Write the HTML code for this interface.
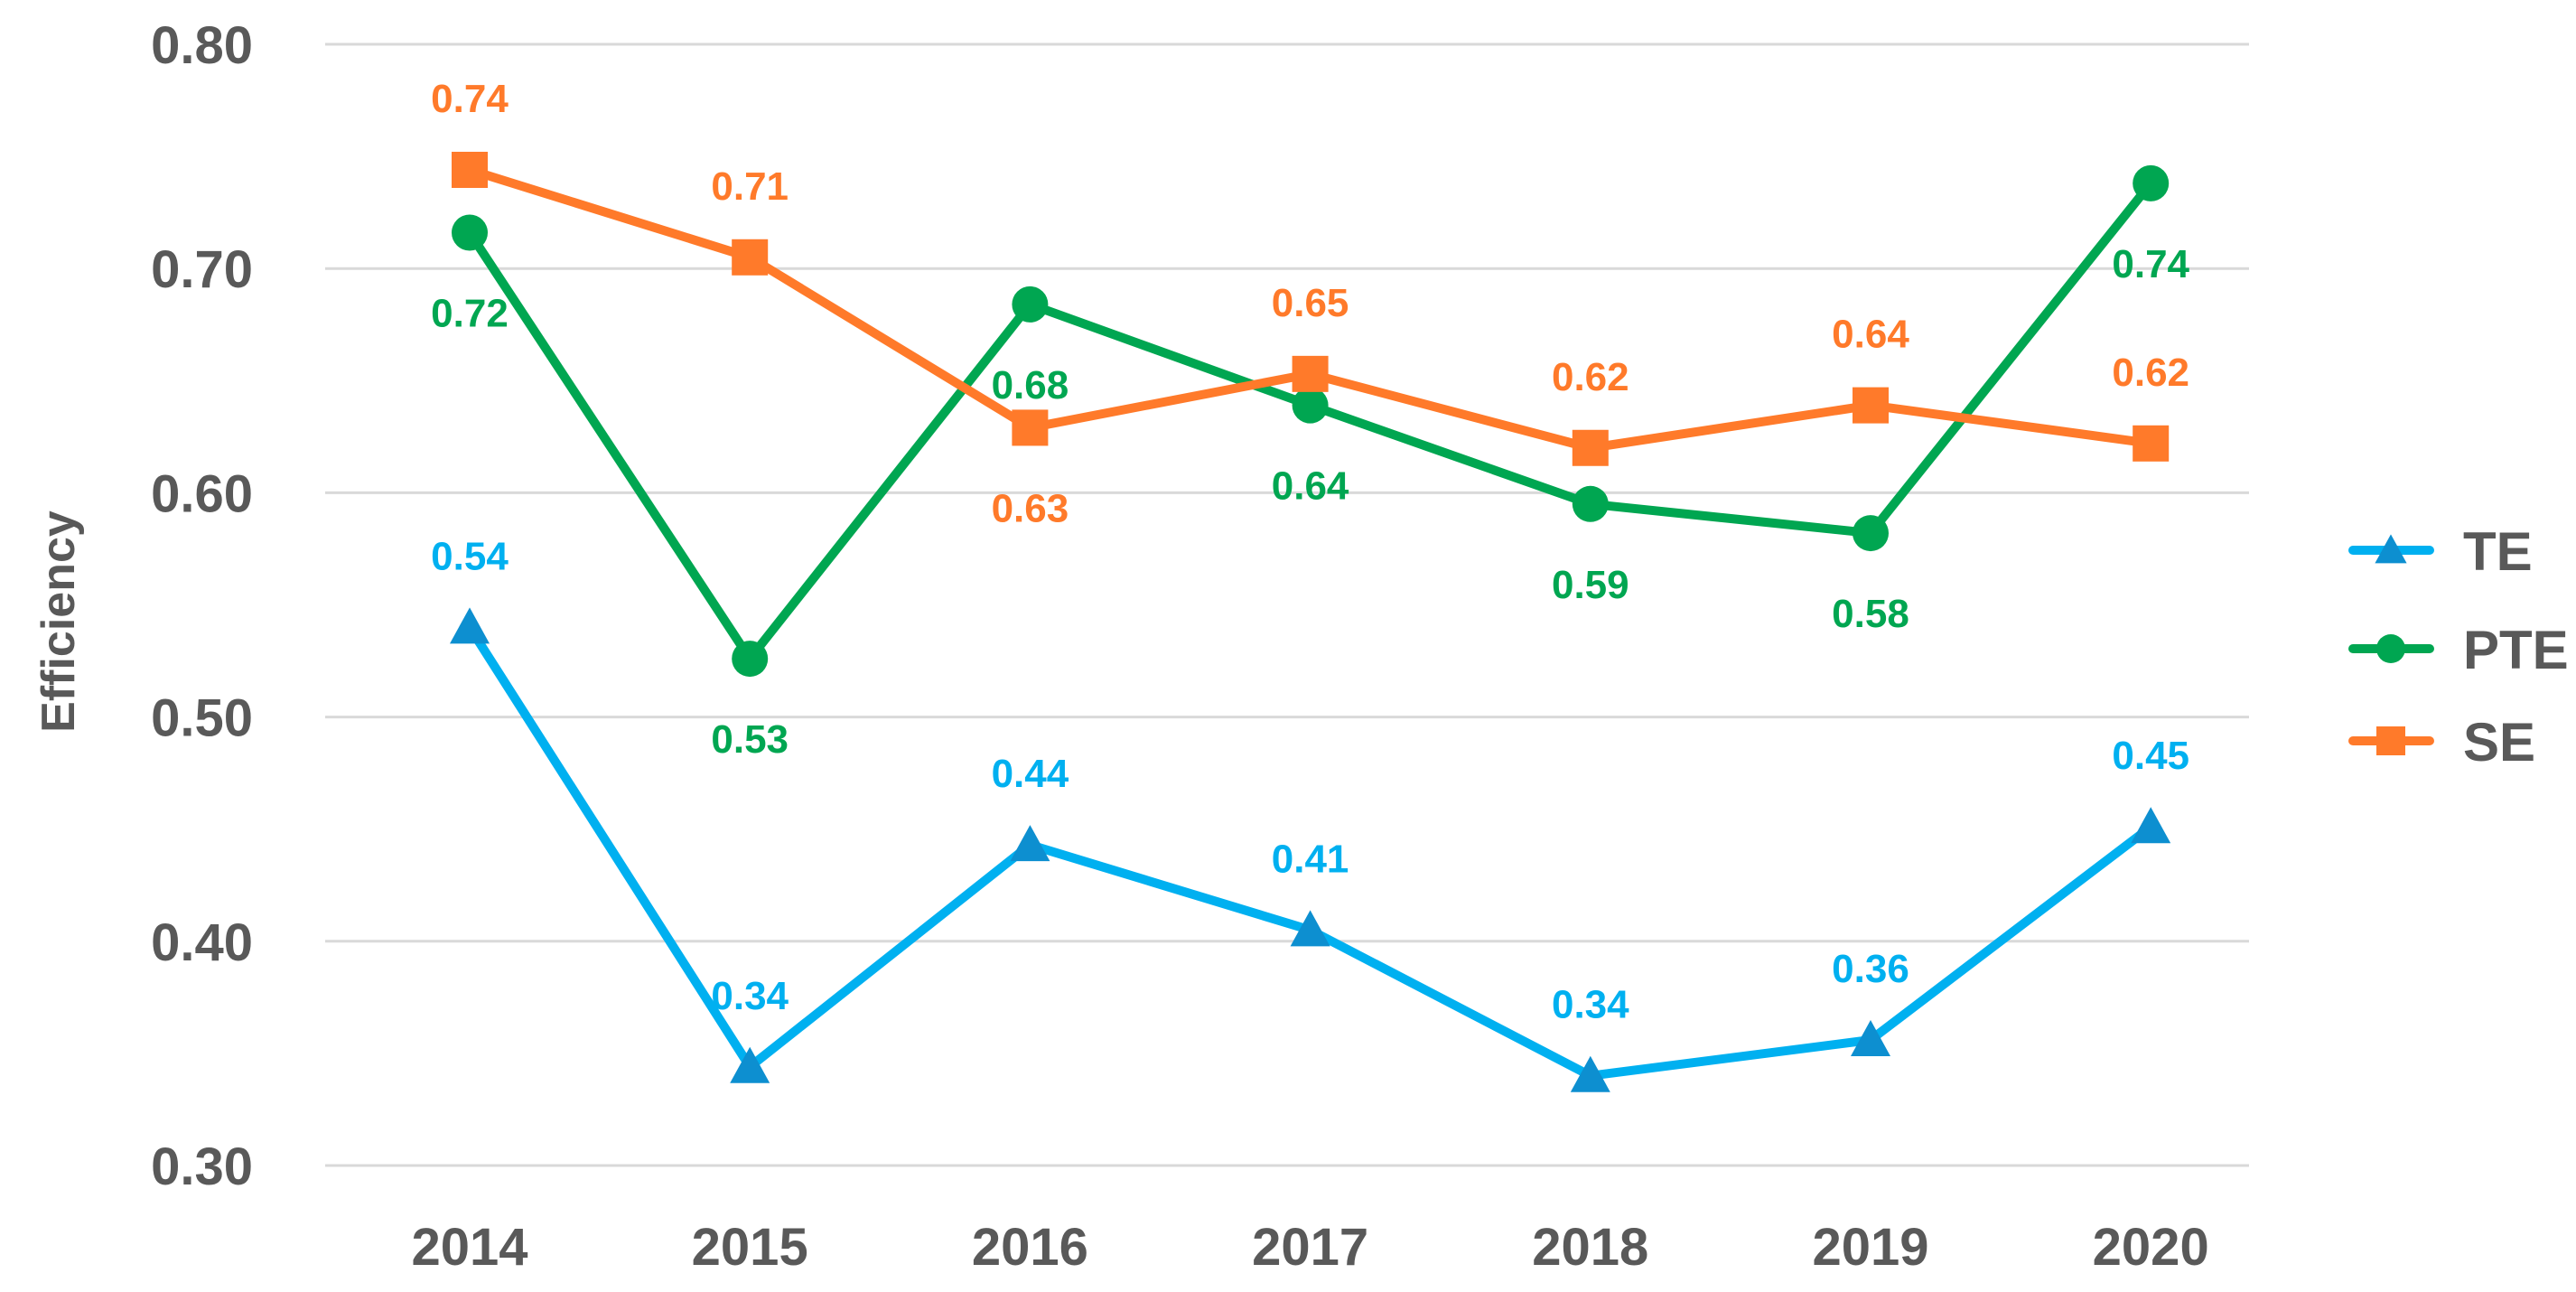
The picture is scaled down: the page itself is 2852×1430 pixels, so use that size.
<!DOCTYPE html>
<html><head><meta charset="utf-8"><style>
html,body{margin:0;padding:0;background:#fff;}
svg{display:block;font-family:"Liberation Sans",sans-serif;}
</style></head><body>
<svg id="chart" width="2852" height="1430" viewBox="0 0 2852 1430" xmlns="http://www.w3.org/2000/svg"></svg>
<script>
const years = ["2014","2015","2016","2017","2018","2019","2020"];
const teValues = [0.540, 0.344, 0.443, 0.405, 0.340, 0.356, 0.451];
const pteValues = [0.716, 0.526, 0.684, 0.639, 0.595, 0.582, 0.738];
const seValues = [0.744, 0.705, 0.629, 0.653, 0.620, 0.639, 0.622];
const teLabels = ["0.54","0.34","0.44","0.41","0.34","0.36","0.45"];
const pteLabels = ["0.72","0.53","0.68","0.64","0.59","0.58","0.74"];
const seLabels = ["0.74","0.71","0.63","0.65","0.62","0.64","0.62"];
const yTicks = [0.30,0.40,0.50,0.60,0.70,0.80];
const yTickLabels = ["0.30","0.40","0.50","0.60","0.70","0.80"];

const NS="http://www.w3.org/2000/svg";
const svg=document.getElementById('chart');
const X0=520, XSTEP=310.2, Y80=49, Y30=1290;
function xPos(i){return X0+i*XSTEP;}
function yPos(v){return Y30-(v-0.30)/(0.50)*(Y30-Y80);}
function mk(tag,attrs){const e=document.createElementNS(NS,tag);for(const k in attrs)e.setAttribute(k,attrs[k]);svg.appendChild(e);return e;}

yTicks.forEach((t,i)=>{
  const l=mk('line',{x1:360,x2:2490,y1:yPos(t),y2:yPos(t),stroke:'#d9d9d9','stroke-width':3});
  
  
  const tx=mk('text',{x:280,y:yPos(t)+21,'text-anchor':'end','font-size':58,'font-weight':'bold',fill:'#595959'});
  tx.textContent=yTickLabels[i];
  
  
});
years.forEach((y,i)=>{
  const tx=mk('text',{x:xPos(i),y:1400,'text-anchor':'middle','font-size':58,'font-weight':'bold',fill:'#595959'});
  tx.textContent=y;
  
  
});
const yt=mk('text',{x:0,y:0,'text-anchor':'middle','font-size':52,'font-weight':'bold',fill:'#595959',transform:'translate(82,688) rotate(-90)'});
yt.textContent='Efficiency';



const series=[
 {name:'se',vals:seValues,labels:seLabels,color:'#FF7A2A',mcol:'#FF7A2A',shape:'sq',pos:[-1,-1,1,-1,-1,-1,-1]},
 {name:'pte',vals:pteValues,labels:pteLabels,color:'#00A651',mcol:'#00A651',shape:'ci',pos:[1,1,1,1,1,1,1]},
 {name:'te',vals:teValues,labels:teLabels,color:'#00B0F0',mcol:'#0D8FD0',shape:'tr',pos:[-1,-1,-1,-1,-1,-1,-1]}
];
function marker(shape,x,y,col,sz){
  let e;
  if(shape==='sq') e=mk('rect',{x:x-sz/2,y:y-sz/2,width:sz,height:sz,fill:col});
  else if(shape==='ci') e=mk('circle',{cx:x,cy:y,r:sz/2,fill:col});
  else e=mk('polygon',{points:`${x},${y-sz*0.55} ${x-sz*0.55},${y+sz*0.45} ${x+sz*0.55},${y+sz*0.45}`,fill:col});
  return e;
}
[series[2],series[1],series[0]].forEach(s=>{
  const p=mk('polyline',{points:s.vals.map((v,i)=>xPos(i)+','+yPos(v)).join(' '),fill:'none',stroke:s.color,'stroke-width':10,'stroke-linejoin':'round'});
  
  
  s.vals.forEach((v,i)=>{
    const m=marker(s.shape,xPos(i),yPos(v),s.mcol,40);
    
    
  });
});
series.forEach(s=>{
  s.vals.forEach((v,i)=>{
    const dy=s.pos[i]<0?-64:104;
    const t=mk('text',{x:xPos(i),y:yPos(v)+dy,'text-anchor':'middle','font-size':44,'font-weight':'bold',fill:s.color});
    t.textContent=s.labels[i];
    
    
  });
});
const leg=[['TE','te',609],['PTE','pte',718],['SE','se',820]];
leg.forEach(l=>{
  const s=series.find(z=>z.name===l[1]);
  const ln=mk('line',{x1:2605,x2:2690,y1:l[2],y2:l[2],stroke:s.color,'stroke-width':10,'stroke-linecap':'round'});
  
  
  const m=marker(s.shape,2647,l[2],s.mcol,32);
  
  
  const t=mk('text',{x:2727,y:l[2]+22,'font-size':60,'font-weight':'bold',fill:'#595959'});
  t.textContent=l[0];
  
  
});
</script>
</body></html>
